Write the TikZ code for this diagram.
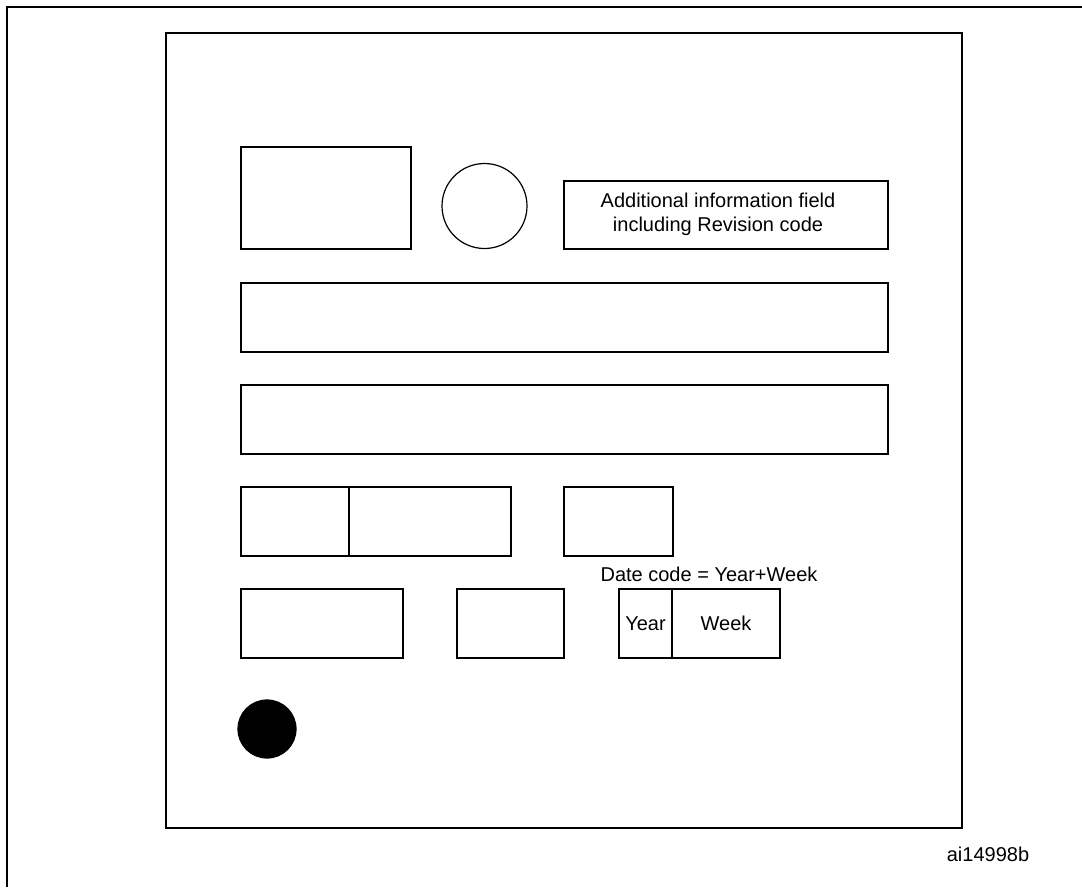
\documentclass[tikz,border=0pt]{standalone}
\usepackage{fontspec}
\setmainfont{Liberation Sans}
\usetikzlibrary{positioning}

\begin{document}
\begin{tikzpicture}[
		x=1pt, y=-1pt,
		font=\fontsize{20}{24}\selectfont,
		% Style for the package outline and the frame
		frame/.style={draw, line width=1.6pt, inner sep=0pt, outer sep=0pt},
		% Style for the marking fields
		field/.style={draw, line width=1.2pt, inner sep=0pt, outer sep=0pt, align=center},
		mark dot/.style={circle, draw, line width=1.2pt, inner sep=0pt, outer sep=0pt},
		% Title & Text
		note label/.style={inner sep=0pt, align=center}
		]
		\useasboundingbox (0,0) rectangle (1082,887);
		
		% OUTER FRAME
		\coordinate (frameBL) at (7,887);
		\coordinate (frameTL) at (7,7);
		\coordinate (frameTR) at (1082,7);
		\draw[line width=1.6pt] (frameBL) -- (frameTL) -- (frameTR);
		
		% PACKAGE
		\node[frame, minimum width=796pt, minimum height=795pt] (pkg) at (564,430.5) {};
		
		% LINE 1
		\node[field, minimum width=170pt, minimum height=102pt] (logo) at (326,198) {};
		\node[mark dot, minimum size=85pt] (pinOne) at (484.5,206) {};
		\node[field, minimum width=324pt, minimum height=68pt] (info) at (726,215) {};
		\node[note label] (infoText) at (718,214) {
				Additional information field \\
				including Revision code
			};
		
		% LINES 2 AND 3
		\node[field, minimum width=647pt, minimum height=69pt] (lineA) at (564.5,317.5) {};
		\node[field, minimum width=647pt, minimum height=69pt] (lineB) at (564.5,419.5) {};
		
		% LINE 4
		\node[field, minimum width=108pt, minimum height=69pt] (code1) at (295,521.5) {};
		\node[field, minimum width=162pt, minimum height=69pt, right=0pt of code1] (code2) {};
		\node[field, minimum width=109pt, minimum height=69pt] (code3) at (618.5,521.5) {};
		
		% LINE 5
		\node[field, minimum width=162pt, minimum height=69pt] (code4) at (322,623.5) {};
		\node[field, minimum width=107pt, minimum height=69pt] (code5) at (510.5,623.5) {};
		\node[field, minimum width=53pt, minimum height=69pt] (year) at (645.5,623.5) {Year};
		\node[field, minimum width=108pt, minimum height=69pt, right=0pt of year] (week) {Week};
		\node[note label] (dateCode) at (709,574) {Date code = Year+Week};
		
		% DOT
		\node[mark dot, fill=black, minimum size=58pt] (dot) at (267,729) {};
		
		\node[note label] (ref) at (988,854) {ai14998b};
	\end{tikzpicture}
\end{document}
